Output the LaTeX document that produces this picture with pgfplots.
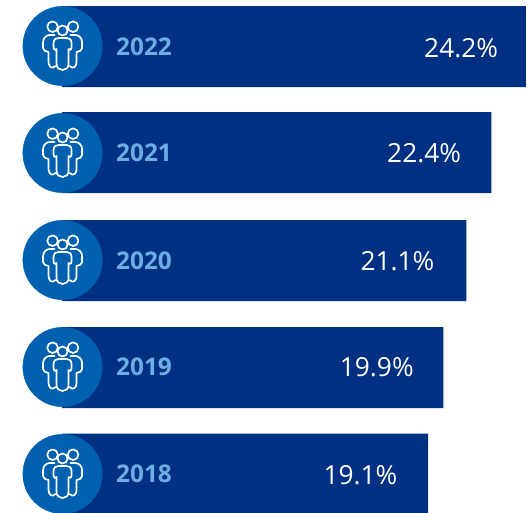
\documentclass[border=0pt]{standalone}
\usepackage{pgfplots}
\pgfplotsset{compat=1.18}
\usepackage{fontspec}
\setmainfont{Open Sans}
\definecolor{barblue}{HTML}{003082}
\definecolor{circblue}{HTML}{0060B0}
\definecolor{yearblue}{HTML}{6CAEE4}
\pgfdeclareplotmark{people}{%
  \pgfsetlinewidth{1.7pt}\pgfsetroundjoin\pgfsetroundcap
  \pgfpathcircle{\pgfpoint{-10pt}{19.3pt}}{5.3pt}
  \pgfpathcircle{\pgfpoint{10.5pt}{19.3pt}}{5.3pt}
  \pgfpathcircle{\pgfpoint{0pt}{15.5pt}}{5pt}
  \pgfusepathqstroke
  % centre figure
  \pgfpathmoveto{\pgfpoint{-6pt}{-18pt}}
  \pgfpathlineto{\pgfpoint{-6pt}{-3pt}}
  \pgfpathcurveto{\pgfpoint{-7pt}{-5pt}}{\pgfpoint{-9pt}{-4pt}}{\pgfpoint{-9pt}{-1pt}}
  \pgfpathlineto{\pgfpoint{-9pt}{3pt}}
  \pgfpathcurveto{\pgfpoint{-9pt}{7pt}}{\pgfpoint{-6pt}{8pt}}{\pgfpoint{-4pt}{8pt}}
  \pgfpathlineto{\pgfpoint{4pt}{8pt}}
  \pgfpathcurveto{\pgfpoint{6pt}{8pt}}{\pgfpoint{9pt}{7pt}}{\pgfpoint{9pt}{3pt}}
  \pgfpathlineto{\pgfpoint{9pt}{-1pt}}
  \pgfpathcurveto{\pgfpoint{9pt}{-4pt}}{\pgfpoint{7pt}{-5pt}}{\pgfpoint{6pt}{-3pt}}
  \pgfpathlineto{\pgfpoint{6pt}{-18pt}}
  \pgfpathcurveto{\pgfpoint{6pt}{-26pt}}{\pgfpoint{-6pt}{-26pt}}{\pgfpoint{-6pt}{-18pt}}
  \pgfusepathqstroke
  % left figure
  \pgfpathmoveto{\pgfpoint{-7pt}{-20pt}}
  \pgfpathcurveto{\pgfpoint{-11pt}{-24pt}}{\pgfpoint{-14pt}{-20pt}}{\pgfpoint{-14pt}{-16pt}}
  \pgfpathlineto{\pgfpoint{-14pt}{-6pt}}
  \pgfpathcurveto{\pgfpoint{-17pt}{-6pt}}{\pgfpoint{-19.5pt}{-4pt}}{\pgfpoint{-19.5pt}{-2pt}}
  \pgfpathlineto{\pgfpoint{-19.5pt}{4pt}}
  \pgfpathcurveto{\pgfpoint{-19.5pt}{8pt}}{\pgfpoint{-16pt}{11pt}}{\pgfpoint{-13pt}{11pt}}
  \pgfpathlineto{\pgfpoint{-8pt}{11pt}}
  \pgfusepathqstroke
  % right figure
  \pgfpathmoveto{\pgfpoint{7pt}{-20pt}}
  \pgfpathcurveto{\pgfpoint{11pt}{-24pt}}{\pgfpoint{14pt}{-20pt}}{\pgfpoint{14pt}{-16pt}}
  \pgfpathlineto{\pgfpoint{14pt}{-6pt}}
  \pgfpathcurveto{\pgfpoint{17pt}{-6pt}}{\pgfpoint{19.5pt}{-4pt}}{\pgfpoint{19.5pt}{-2pt}}
  \pgfpathlineto{\pgfpoint{19.5pt}{4pt}}
  \pgfpathcurveto{\pgfpoint{19.5pt}{8pt}}{\pgfpoint{16pt}{11pt}}{\pgfpoint{13pt}{11pt}}
  \pgfpathlineto{\pgfpoint{8pt}{11pt}}
  \pgfusepathqstroke
}
\begin{document}
\begin{tikzpicture}
\useasboundingbox (0pt,0pt) rectangle (527pt,512pt);
\begin{axis}[
  anchor=south west, at={(0pt,0pt)},
  width=527pt, height=512pt, scale only axis,
  hide axis, clip=true,
  xmin=-3.234, xmax=24.257, ymin=0, ymax=512, y dir=reverse,
]
\addplot[xbar, bar width=81pt, bar shift=0pt, fill=barblue, draw=none] coordinates
  {(24.2,46.5) (22.4,152.5) (21.1,260.5) (19.9,367.5) (19.1,474)};
\addplot[only marks, mark=*, mark size=39.7pt, mark options={fill=circblue, draw=circblue, line width=0.4pt}, forget plot]
  coordinates {(0.03,46) (0.03,153) (0.03,260) (0.03,367) (0.03,474)};
\addplot[only marks, mark=people, mark options={draw=white, fill=none}, forget plot]
  coordinates {(0.03,46) (0.03,153) (0.03,260) (0.03,367) (0.03,474)};
\addplot[only marks, mark=none, forget plot, nodes near coords, point meta=explicit symbolic,
  every node near coord/.style={anchor=center, text=yearblue, font=\fontsize{24.4}{26}\selectfont\bfseries}]
  coordinates {(4.28,47)[2022] (4.28,153)[2021] (4.28,261)[2020] (4.28,367)[2019] (4.28,474)[2018]};
\addplot[only marks, mark=none, forget plot, nodes near coords, point meta=explicit symbolic,
  every node near coord/.style={anchor=center, text=white, font=\fontsize{26.3}{28}\selectfont}]
  coordinates {(20.82,48)[24.2\%] (18.89,153)[22.4\%] (17.50,261)[21.1\%] (16.42,367)[19.9\%] (15.57,475)[19.1\%]};
\end{axis}
\end{tikzpicture}
\end{document}
